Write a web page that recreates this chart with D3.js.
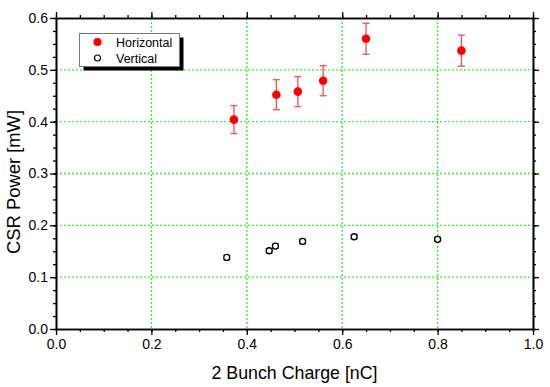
<!DOCTYPE html>
<html>
<head>
<meta charset="utf-8">
<script src="https://cdn.jsdelivr.net/npm/d3@7"></script>
<style>
  body { margin: 0; background: #fff; }
  svg { font-family: "Liberation Sans", Arial, sans-serif; }
  .axis path, .axis line { stroke: #000; }
  .axis path { stroke-width: 1.6; }
  .axis line { stroke-width: 1.3; }
  .axis text { font-size: 14px; fill: #000; }
</style>
</head>
<body>
<div id="vis"></div>
<script>
// Horizontal series (red filled)
var hCharge = [0.373, 0.462, 0.507, 0.560, 0.650, 0.850];
var hPower  = [0.404, 0.452, 0.458, 0.479, 0.560, 0.537];
var hErr    = [0.027, 0.029, 0.029, 0.029, 0.030, 0.030];

// Vertical series (open circles)
var vCharge = [0.358, 0.447, 0.460, 0.517, 0.625, 0.800];
var vPower  = [0.138, 0.151, 0.160, 0.169, 0.178, 0.173];
var vErr    = [0.004, 0.004, 0.004, 0.004, 0.004, 0.004];

var xTicks = [0.0, 0.2, 0.4, 0.6, 0.8, 1.0];
var yTicks = [0.0, 0.1, 0.2, 0.3, 0.4, 0.5, 0.6];
var seriesNames = ["Horizontal", "Vertical"];

var width = 550, height = 387;
var margin = { top: 18, left: 56, bottom: 58, right: 17 };
var iw = width - margin.left - margin.right;
var ih = height - margin.top - margin.bottom;

var x = d3.scaleLinear().domain([0, 1]).range([0, iw]);
var y = d3.scaleLinear().domain([0, 0.6]).range([ih, 0]);

var svg = d3.select("#vis").append("svg")
  .attr("width", width)
  .attr("height", height);
var g = svg.append("g").attr("transform", "translate(" + margin.left + "," + margin.top + ")");

// grid
g.selectAll(".gx").data(xTicks.slice(1, -1)).enter().append("line")
  .attr("x1", function (d) { return x(d); }).attr("x2", function (d) { return x(d); })
  .attr("y1", 0).attr("y2", ih)
  .attr("stroke", "#33f033").attr("stroke-width", 1.4).attr("stroke-dasharray", "2,2");
g.selectAll(".gy").data(yTicks.slice(1, -1)).enter().append("line")
  .attr("y1", function (d) { return y(d); }).attr("y2", function (d) { return y(d); })
  .attr("x1", 0).attr("x2", iw)
  .attr("stroke", "#33f033").attr("stroke-width", 1.4).attr("stroke-dasharray", "2,2");

// minor ticks
var xMinor = d3.range(0, 1.0001, 0.05).map(function (d) { return +d.toFixed(2); });
var yMinor = d3.range(0, 0.6001, 0.025).map(function (d) { return +d.toFixed(3); });

function minor(axis, vals) {
  return axis.tickValues(vals).tickSize(3).tickSizeOuter(0).tickFormat("");
}
g.append("g").attr("class", "axis").attr("transform", "translate(0," + ih + ")").call(minor(d3.axisBottom(x), xMinor));
g.append("g").attr("class", "axis").call(minor(d3.axisTop(x), xMinor));
g.append("g").attr("class", "axis").call(minor(d3.axisLeft(y), yMinor));
g.append("g").attr("class", "axis").attr("transform", "translate(" + iw + ",0)").call(minor(d3.axisRight(y), yMinor));

// major ticks
g.append("g").attr("class", "axis").attr("transform", "translate(0," + ih + ")")
  .call(d3.axisBottom(x).tickValues(xTicks).tickSize(6).tickSizeOuter(0).tickPadding(4).tickFormat(d3.format(".1f")));
g.append("g").attr("class", "axis")
  .call(d3.axisTop(x).tickValues(xTicks).tickSize(6).tickSizeOuter(0).tickFormat(""));
g.append("g").attr("class", "axis")
  .call(d3.axisLeft(y).tickValues(yTicks).tickSize(6).tickSizeOuter(0).tickPadding(2).tickFormat(d3.format(".1f")));
g.append("g").attr("class", "axis").attr("transform", "translate(" + iw + ",0)")
  .call(d3.axisRight(y).tickValues(yTicks).tickSize(6).tickSizeOuter(0).tickFormat(""));

// error bars
function errorBars(xs, ys, es, color) {
  var grp = g.append("g").attr("stroke", color).attr("stroke-width", 1.3);
  xs.forEach(function (xv, i) {
    var px = x(xv), y1 = y(ys[i] + es[i]), y2 = y(ys[i] - es[i]);
    grp.append("line").attr("x1", px).attr("x2", px).attr("y1", y1).attr("y2", y2);
    grp.append("line").attr("x1", px - 3.5).attr("x2", px + 3.5).attr("y1", y1).attr("y2", y1);
    grp.append("line").attr("x1", px - 3.5).attr("x2", px + 3.5).attr("y1", y2).attr("y2", y2);
  });
}
errorBars(hCharge, hPower, hErr, "#f05050");
errorBars(vCharge, vPower, vErr, "#555");

g.selectAll(".hpt").data(hCharge).enter().append("circle")
  .attr("cx", function (d) { return x(d); })
  .attr("cy", function (d, i) { return y(hPower[i]); })
  .attr("r", 4.3).attr("fill", "#ff0000");

g.selectAll(".vpt").data(vCharge).enter().append("circle")
  .attr("cx", function (d) { return x(d); })
  .attr("cy", function (d, i) { return y(vPower[i]); })
  .attr("r", 3).attr("fill", "#fff").attr("stroke", "#000").attr("stroke-width", 1.3);

// legend
var lg = svg.append("g").attr("transform", "translate(79.5,33.5)");
lg.append("rect").attr("x", 4).attr("y", 4).attr("width", 100).attr("height", 33).attr("fill", "#000");
lg.append("rect").attr("x", 0).attr("y", 0).attr("width", 100).attr("height", 33)
  .attr("fill", "#fff").attr("stroke", "#777").attr("stroke-width", 1);
lg.append("circle").attr("cx", 18).attr("cy", 8.5).attr("r", 4).attr("fill", "#ff0000");
lg.append("circle").attr("cx", 18).attr("cy", 24.5).attr("r", 3).attr("fill", "#fff").attr("stroke", "#000").attr("stroke-width", 1.2);
lg.selectAll("text").data(seriesNames).enter().append("text")
  .attr("x", 36.5).attr("y", function (d, i) { return 13 + i * 16; })
  .attr("font-size", "12.5px").text(function (d) { return d; });

// axis titles
svg.append("text").attr("x", margin.left + iw / 2).attr("y", 379)
  .attr("text-anchor", "middle").attr("font-size", "17.8px").text("2 Bunch Charge [nC]");
svg.append("text").attr("transform", "translate(20,182) rotate(-90)")
  .attr("text-anchor", "middle").attr("font-size", "18.4px").text("CSR Power [mW]");
</script>
</body>
</html>
